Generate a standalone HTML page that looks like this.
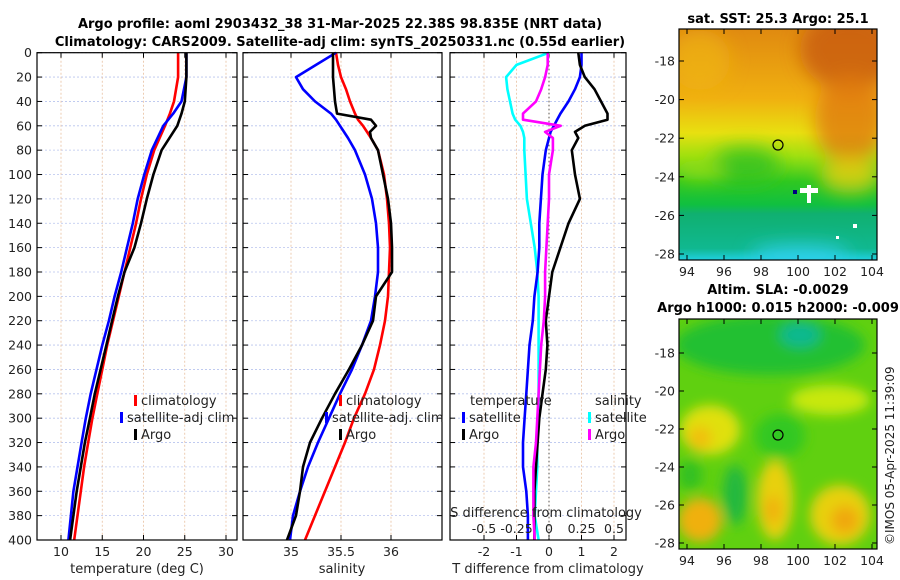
<!DOCTYPE html>
<html><head><meta charset="utf-8"><style>
html,body{margin:0;padding:0;background:#fff;width:900px;height:580px;overflow:hidden}
svg{font-family:"DejaVu Sans","Liberation Sans",sans-serif}
</style></head><body>
<svg id="fig" width="900" height="580" viewBox="0 0 900 580" xmlns="http://www.w3.org/2000/svg">
<defs>
<filter id="bl" x="-50%" y="-50%" width="200%" height="200%"><feGaussianBlur stdDeviation="9"/></filter>
<filter id="bl2" x="-50%" y="-50%" width="200%" height="200%"><feGaussianBlur stdDeviation="6"/></filter>
<clipPath id="c1"><rect x="679" y="29" width="198" height="231"/></clipPath>
<clipPath id="c2"><rect x="679" y="319" width="198" height="230"/></clipPath>
<linearGradient id="sst" x1="0" y1="0" x2="0" y2="1">
<stop offset="0" stop-color="#e08a10"/><stop offset="0.3" stop-color="#f0b010"/><stop offset="0.45" stop-color="#e8e010"/>
<stop offset="0.55" stop-color="#a0e010"/><stop offset="0.66" stop-color="#30c820"/><stop offset="0.76" stop-color="#10c040"/>
<stop offset="0.8" stop-color="#10b070"/><stop offset="0.95" stop-color="#10b890"/><stop offset="1" stop-color="#20d0e0"/>
</linearGradient>
</defs>
<text x="340" y="28" font-size="13" font-weight="bold" text-anchor="middle">Argo profile: aoml 2903432_38 31-Mar-2025 22.38S 98.835E (NRT data)</text>
<text x="340" y="46" font-size="13" font-weight="bold" text-anchor="middle">Climatology: CARS2009. Satellite-adj clim: synTS_20250331.nc (0.55d earlier)</text>
<g id="maps"></g>
<g id="plots"></g>
<text transform="translate(894,545) rotate(-90)" font-size="12" fill="#222">©IMOS 05-Apr-2025 11:39:09</text>
</svg>
<script>
// ---------- data ----------
const depths = [0,20,40,50,60,80,100,120,140,160,180,200,220,240,260,280,300,320,340,360,380,400];
const tempClim = [24.2,24.2,23.7,23.2,22.6,21.3,20.4,19.7,19.1,18.4,17.7,17.0,16.3,15.6,15.0,14.4,13.8,13.3,12.8,12.4,12.0,11.6];
const tempSat  = [25.2,25.2,24.6,23.6,22.4,21.0,20.1,19.3,18.7,18.0,17.3,16.5,15.8,15.0,14.3,13.6,13.0,12.5,12.0,11.5,11.2,10.9];
const tempArgo = [25.2,25.2,25.0,24.6,24.1,22.2,21.2,20.4,19.7,18.9,17.7,16.9,16.2,15.5,14.8,14.1,13.5,12.9,12.4,11.9,11.5,11.1];
const salDepths = [0,10,20,30,40,50,55,60,65,70,80,100,120,140,160,180,200,220,240,260,280,300,320,340,360,380,400];
const salClim = [35.45,35.47,35.50,35.55,35.59,35.64,35.67,35.72,35.76,35.80,35.87,35.93,35.96,35.98,35.99,35.98,35.97,35.94,35.89,35.83,35.74,35.63,35.54,35.44,35.34,35.24,35.14];
const salSat  = [35.45,35.25,35.05,35.12,35.24,35.40,35.45,35.49,35.53,35.57,35.64,35.74,35.81,35.85,35.87,35.87,35.84,35.80,35.71,35.61,35.49,35.38,35.27,35.17,35.09,35.02,34.99];
const salArgo = [35.42,35.42,35.42,35.43,35.44,35.46,35.80,35.85,35.79,35.80,35.87,35.92,35.97,36.00,36.01,36.01,35.85,35.82,35.71,35.58,35.44,35.31,35.19,35.12,35.09,35.05,34.96];
const diffDepths = [0,10,20,30,40,50,55,60,65,70,80,100,120,140,160,180,200,220,240,260,280,300,320,340,360,380,400];
const tDiffSat  = [1.0,1.0,0.95,0.8,0.6,0.35,0.25,0.15,0.05,0.0,-0.1,-0.2,-0.25,-0.3,-0.3,-0.35,-0.45,-0.5,-0.6,-0.65,-0.7,-0.75,-0.8,-0.8,-0.7,-0.65,-0.65];
const tDiffArgo = [0.9,0.95,1.1,1.4,1.6,1.8,1.8,1.1,0.8,0.9,0.7,0.8,0.95,0.6,0.35,0.1,0.0,-0.1,-0.05,-0.1,-0.2,-0.3,-0.35,-0.4,-0.45,-0.45,-0.45];
const sDiffSat  = [0.0,-0.25,-0.33,-0.32,-0.3,-0.28,-0.26,-0.22,-0.2,-0.19,-0.19,-0.18,-0.17,-0.14,-0.11,-0.09,-0.08,-0.08,-0.08,-0.08,-0.08,-0.08,-0.09,-0.09,-0.1,-0.11,-0.08];
const sDiffArgo = [-0.01,-0.01,-0.03,-0.06,-0.1,-0.2,-0.2,0.09,-0.03,0.03,0.03,0.0,0.0,-0.01,-0.02,-0.03,-0.03,-0.04,-0.06,-0.07,-0.08,-0.09,-0.1,-0.12,-0.12,-0.12,-0.11];
const tempTicks = [10,15,20,25,30];
const salTicks = [35,35.5,36];
const salTickLabels = ["35","35.5","36"];
const tDiffTicks = [-2,-1,0,1,2];
const sDiffTicks = [-0.5,-0.25,0,0.25,0.5];
const depthTicks = [0,20,40,60,80,100,120,140,160,180,200,220,240,260,280,300,320,340,360,380,400];
const latTicks = [-18,-20,-22,-24,-26,-28];
const lonTicks = [94,96,98,100,102,104];

// ---------- helpers ----------
const NS = "http://www.w3.org/2000/svg";
const plots = document.getElementById('plots');
const maps = document.getElementById('maps');
function mk(tag, attrs, parent, txt){
  const e = document.createElementNS(NS, tag);
  for (const k in attrs) e.setAttribute(k, attrs[k]);
  if (txt !== undefined) e.textContent = txt;
  (parent||plots).appendChild(e);
  return e;
}
const yTop = 52.7, yBot = 540;
const yD = d => yTop + d*(yBot-yTop)/400;
const xT = t => 61 + (t-10)*8.25;
const xS = s => 291 + (s-35)*100;
const xTd = v => 549 + v*32.5;
const xSd = v => 549 + v*130;

function panel(x0, x1, name){
  const g = mk('g', {});
  
  
  return g;
}
function grid(g, x0, x1, xs){
  depthTicks.forEach(d=>{
    const l = mk('line',{x1:x0,x2:x1,y1:yD(d),y2:yD(d),stroke:'#b8c4ee','stroke-width':0.8,'stroke-dasharray':'2,2'},g);
    
    
    mk('line',{x1:x0,x2:x0+5,y1:yD(d),y2:yD(d),stroke:'#000'},g);
    mk('line',{x1:x1-5,x2:x1,y1:yD(d),y2:yD(d),stroke:'#000'},g);
  });
  xs.forEach(x=>{
    const l = mk('line',{x1:x,x2:x,y1:yTop,y2:yBot,stroke:'#e8c0a0','stroke-width':0.8,'stroke-dasharray':'2,2'},g);
    
    
    mk('line',{x1:x,x2:x,y1:yBot,y2:yBot-5,stroke:'#000'},g);
    mk('line',{x1:x,x2:x,y1:yTop,y2:yTop+5,stroke:'#000'},g);
  });
}
function frame(g, x0, x1){
  const r = mk('rect',{x:x0,y:yTop,width:x1-x0,height:yBot-yTop,fill:'none',stroke:'#000','stroke-width':1.2},g);
  
  
}
function line(g, vals, ds, fx, color, name){
  const pts = vals.map((v,i)=>fx(v).toFixed(1)+','+yD(ds[i]).toFixed(1)).join(' ');
  const p = mk('polyline',{points:pts,fill:'none',stroke:color,'stroke-width':2.6,'stroke-linejoin':'round'},g);
  
  
}
function legend(g, x, y, color, label, name){
  const r = mk('rect',{x:x,y:y-8,width:3,height:11,fill:color},g);
  
  
  const t = mk('text',{x:x+7,y:y+2,'font-size':13,fill:'#222'},g,label);
  
  
}

// ---------- panel 1: temperature ----------
const g1 = panel(37,237,'temperature-panel');
grid(g1, 37, 237, tempTicks.map(xT));
line(g1, tempClim, depths, xT, '#ff0000', 'temp-climatology-line');
line(g1, tempSat, depths, xT, '#0000ff', 'temp-satellite-line');
line(g1, tempArgo, depths, xT, '#000000', 'temp-argo-line');
frame(g1, 37, 237);
depthTicks.forEach(d=>{
  const t = mk('text',{x:32,y:yD(d)+4.5,'font-size':12.5,'text-anchor':'end',fill:'#222'},g1,String(d));
  
  
});
tempTicks.forEach(v=>{
  const t = mk('text',{x:xT(v),y:556,'font-size':12.5,'text-anchor':'middle',fill:'#222'},g1,String(v));
  
  
});
const xl1 = mk('text',{x:137,y:573,'font-size':13,'text-anchor':'middle',fill:'#222'},g1,'temperature (deg C)');
 
legend(g1,134,403,'#ff0000','climatology','legend-climatology');
legend(g1,120,420,'#0000ff','satellite-adj clim','legend-satellite-adj');
legend(g1,134,437,'#000000','Argo','legend-argo');

// ---------- panel 2: salinity ----------
const g2 = panel(243,442,'salinity-panel');
grid(g2, 243, 442, salTicks.map(xS));
line(g2, salClim, salDepths, xS, '#ff0000', 'sal-climatology-line');
line(g2, salSat, salDepths, xS, '#0000ff', 'sal-satellite-line');
line(g2, salArgo, salDepths, xS, '#000000', 'sal-argo-line');
frame(g2, 243, 442);
salTicks.forEach((v,i)=>{
  const t = mk('text',{x:xS(v),y:556,'font-size':12.5,'text-anchor':'middle',fill:'#222'},g2,salTickLabels[i]);
  
  
});
const xl2 = mk('text',{x:342,y:573,'font-size':13,'text-anchor':'middle',fill:'#222'},g2,'salinity');
 
legend(g2,339,403,'#ff0000','climatology','legend-climatology');
legend(g2,325,420,'#0000ff','satellite-adj. clim','legend-satellite-adj');
legend(g2,339,437,'#000000','Argo','legend-argo');

// ---------- panel 3: differences ----------
const g3 = panel(450,626,'difference-panel');
grid(g3, 450, 626, tDiffTicks.map(xTd));
const zl = mk('line',{x1:549,x2:549,y1:yTop,y2:yBot,stroke:'#555','stroke-width':1,'stroke-dasharray':'1.5,2.5'},g3);
 
line(g3, sDiffSat, diffDepths, xSd, '#00ffff', 'sdiff-satellite-line');
line(g3, tDiffSat, diffDepths, xTd, '#0000ff', 'tdiff-satellite-line');
line(g3, tDiffArgo, diffDepths, xTd, '#000000', 'tdiff-argo-line');
line(g3, sDiffArgo, diffDepths, xSd, '#ff00ff', 'sdiff-argo-line');
frame(g3, 450, 626);
tDiffTicks.forEach(v=>{
  const t = mk('text',{x:xTd(v),y:556,'font-size':12.5,'text-anchor':'middle',fill:'#222'},g3,String(v));
  
  
});
sDiffTicks.forEach(v=>{
  const t = mk('text',{x:xSd(v),y:533,'font-size':12.5,'text-anchor':'middle',fill:'#222'},g3,String(v));
  
  
});
const xl3 = mk('text',{x:548,y:573,'font-size':13,'text-anchor':'middle',fill:'#222'},g3,'T difference from climatology');
 
const xl4 = mk('text',{x:546,y:517,'font-size':13,'text-anchor':'middle',fill:'#222'},g3,'S difference from climatology');
 
const lt1 = mk('text',{x:470,y:405,'font-size':13,fill:'#222'},g3,'temperature');
 
const lt2 = mk('text',{x:595,y:405,'font-size':13,fill:'#222'},g3,'salinity');
 
legend(g3,462,420,'#0000ff','satellite','legend-temp-satellite');
legend(g3,462,437,'#000000','Argo','legend-temp-argo');
legend(g3,588,420,'#00ffff','satellite','legend-sal-satellite');
legend(g3,588,437,'#ff00ff','Argo','legend-sal-argo');

// ---------- maps ----------
const lonX = lon => 687 + (lon-94)*18.5;
function mapAxes(g, yTopM, yBotM, latY){
  latTicks.forEach(l=>{
    const y = latY(l);
    mk('line',{x1:877,x2:872,y1:y,y2:y,stroke:'#000'},g);
    mk('line',{x1:679,x2:684,y1:y,y2:y,stroke:'#000'},g);
    const t = mk('text',{x:675,y:y+4.5,'font-size':12.5,'text-anchor':'end',fill:'#222'},g,String(l));
    
    
  });
  lonTicks.forEach(l=>{
    const x = lonX(l);
    mk('line',{x1:x,x2:x,y1:yBotM,y2:yBotM-5,stroke:'#000'},g);
    mk('line',{x1:x,x2:x,y1:yTopM,y2:yTopM+5,stroke:'#000'},g);
    const t = mk('text',{x:x,y:yBotM+16,'font-size':12.5,'text-anchor':'middle',fill:'#222'},g,String(l));
    
    
  });
  const r = mk('rect',{x:679,y:yTopM,width:198,height:yBotM-yTopM,fill:'none',stroke:'#000','stroke-width':1.2},g);
   
}
// SST map
const m1 = mk('g',{},maps);
 
const m1c = mk('g',{'clip-path':'url(#c1)'},m1);
mk('rect',{x:679,y:29,width:198,height:231,fill:'url(#sst)'},m1c);
const b1 = mk('g',{filter:'url(#bl)'},m1c);
mk('ellipse',{cx:850,cy:50,rx:50,ry:40,fill:'#c85a10',opacity:0.8},b1);
mk('ellipse',{cx:850,cy:120,rx:35,ry:45,fill:'#e07a10',opacity:0.8},b1);
mk('ellipse',{cx:700,cy:60,rx:30,ry:30,fill:'#f0b810',opacity:0.6},b1);
mk('ellipse',{cx:850,cy:175,rx:30,ry:18,fill:'#e8d010',opacity:0.8},b1);
mk('ellipse',{cx:745,cy:165,rx:35,ry:18,fill:'#30c020',opacity:0.8},b1);
mk('ellipse',{cx:700,cy:170,rx:25,ry:10,fill:'#a0e010',opacity:0.7},b1);
mk('ellipse',{cx:800,cy:255,rx:50,ry:10,fill:'#30d0f0',opacity:0.9},b1);
mk('rect',{x:807,y:185,width:4,height:18,fill:'#fff'},m1c);
mk('rect',{x:800,y:188,width:18,height:5,fill:'#fff'},m1c);
mk('rect',{x:793,y:190,width:4,height:4,fill:'#000080'},m1c);
mk('rect',{x:853,y:224,width:4,height:4,fill:'#fff'},m1c);
mk('rect',{x:836,y:236,width:3,height:3,fill:'#fff'},m1c);
const pc1 = mk('circle',{cx:778,cy:145,r:5,fill:'none',stroke:'#000','stroke-width':1.2},m1);
 
mapAxes(m1, 29, 260, l => 61 + (-18-l)*19.3);
const mt1 = mk('text',{x:778,y:23,'font-size':13,'font-weight':'bold','text-anchor':'middle'},m1,'sat. SST: 25.3 Argo: 25.1');
 

// SLA map
const m2 = mk('g',{},maps);
 
const m2c = mk('g',{'clip-path':'url(#c2)'},m2);
mk('rect',{x:679,y:319,width:198,height:230,fill:'#60d010'},m2c);
const b2 = mk('g',{filter:'url(#bl2)'},m2c);
mk('ellipse',{cx:770,cy:345,rx:95,ry:30,fill:'#20c030'},b2);
mk('ellipse',{cx:800,cy:335,rx:20,ry:12,fill:'#10b890'},b2);
mk('ellipse',{cx:710,cy:430,rx:30,ry:25,fill:'#e0e010'},b2);
mk('ellipse',{cx:700,cy:438,rx:12,ry:12,fill:'#f0c010'},b2);
mk('ellipse',{cx:780,cy:436,rx:25,ry:22,fill:'#30c820'},b2);
mk('ellipse',{cx:830,cy:400,rx:40,ry:15,fill:'#c8e810'},b2);
mk('ellipse',{cx:775,cy:500,rx:18,ry:40,fill:'#e8d010'},b2);
mk('ellipse',{cx:773,cy:510,rx:8,ry:14,fill:'#f0b010'},b2);
mk('ellipse',{cx:700,cy:520,rx:22,ry:22,fill:'#f0b010'},b2);
mk('ellipse',{cx:840,cy:515,rx:30,ry:30,fill:'#e8d010'},b2);
mk('ellipse',{cx:845,cy:520,rx:14,ry:14,fill:'#f0a810'},b2);
mk('ellipse',{cx:735,cy:495,rx:12,ry:30,fill:'#20b840'},b2);
mk('ellipse',{cx:690,cy:475,rx:12,ry:15,fill:'#30c020'},b2);
const pc2 = mk('circle',{cx:778,cy:435,r:5,fill:'none',stroke:'#000','stroke-width':1.2},m2);
 
mapAxes(m2, 319, 549, l => 353 + (-18-l)*19.0);
const mt2 = mk('text',{x:778,y:294,'font-size':13,'font-weight':'bold','text-anchor':'middle'},m2,'Altim. SLA: -0.0029');
 
const mt3 = mk('text',{x:778,y:312,'font-size':13,'font-weight':'bold','text-anchor':'middle'},m2,'Argo h1000: 0.015 h2000: -0.009');
 
</script>
</body></html>
